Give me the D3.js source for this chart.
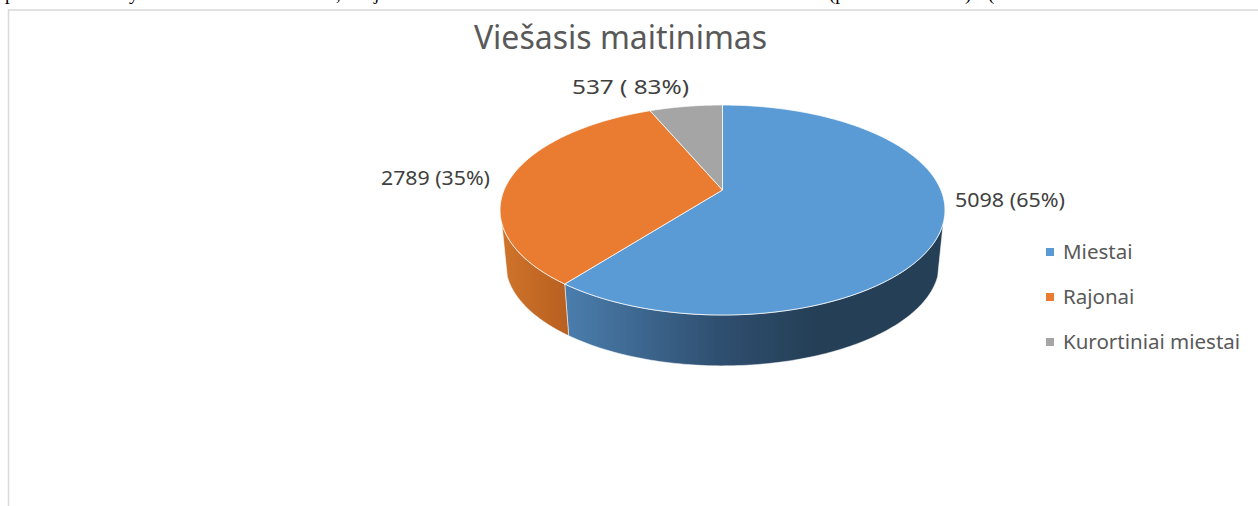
<!DOCTYPE html>
<html>
<head>
<meta charset="utf-8">
<script src="https://cdn.jsdelivr.net/npm/d3@7"></script>
<style>
  html, body { margin: 0; padding: 0; background: #fff; overflow: hidden; }
  text { font-family: "Noto Sans", sans-serif; fill: #595959; }
</style>
</head>
<body>
<div class="chart"></div>
<script>
// Chart data
var title = "Viešasis maitinimas";
var categories = ["Miestai", "Rajonai", "Kurortiniai miestai"];
var values = [5098, 2789, 537];
// labels as printed on the original chart
var dataLabels = ["5098 (65%)", "2789 (35%)", "537 ( 83%)"];
var colors = ["#5b9bd5", "#ea7c31", "#a5a5a5"];
// bits of the cut-off document line above the chart
var clippedText = ["p", "y", ",", "j", "(p", ")", "("];
var clippedTextX = [5, 129, 336, 374, 829, 965, 988];

var svgWidth = 1258;
var svgHeight = 506;

var svg = d3.select(".chart")
  .append("svg")
  .attr("width", svgWidth)
  .attr("height", svgHeight)
  .style("display", "block");

// Document text, only the bottoms of the letters show
svg.selectAll(".clipped")
  .data(clippedText)
  .enter()
  .append("text")
  .attr("class", "clipped")
  .attr("x", (d, i) => clippedTextX[i])
  .attr("y", -0.5)
  .style("font-family", "'Liberation Serif', serif")
  .style("font-size", "19px")
  .style("fill", "#000")
  .text(d => d);

// Chart frame, top and left edges only
svg.append("path")
  .attr("d", "M8.5,506V10H1258")
  .attr("fill", "none")
  .attr("stroke", "#d9d9d9")
  .attr("stroke-width", 1.5);

svg.append("text")
  .attr("x", 620.5)
  .attr("y", 49)
  .attr("text-anchor", "middle")
  .style("font-size", "32px")
  .text(title);

// Pie angles, counted from the top; the first slice runs clockwise
var pie = d3.pie().sort(null).value(d => d).startAngle(0).endAngle(2 * Math.PI);
var arcs = pie(values);

// Perspective projection of the tilted circle
var cx = 722.5, topCy = 190, bottomCy = 244;
var k = 0.1905, rx = 218.4, ry = 101.19, bottomScale = 0.975;

function project(a, cy, s) {
  var w = 1 + k * Math.cos(a);
  return [cx + s * rx * Math.sin(a) / w, cy - s * ry * Math.cos(a) / w];
}

function arcPoints(a0, a1, cy, s) {
  return d3.range(0, 121).map(i => project(a0 + (a1 - a0) * i / 120, cy, s));
}

var line = d3.line();

// Side wall is visible from here to the same angle on the other side
var silhouette = 108 * Math.PI / 180;

var defs = svg.append("defs");

function wallGradient(id, x1, x2, stops) {
  var g = defs.append("linearGradient")
    .attr("id", id)
    .attr("gradientUnits", "userSpaceOnUse")
    .attr("x1", x1).attr("x2", x2)
    .attr("y1", 0).attr("y2", 0);
  stops.forEach(s => g.append("stop").attr("offset", s[0]).attr("stop-color", s[1]));
}

wallGradient("wallBlue", 568, 945, [[0, "#4a7dac"], [0.4, "#2f4f70"], [0.66, "#243f56"], [1, "#243f56"]]);
wallGradient("wallOrange", 501, 570, [[0, "#cf742b"], [1, "#b85f20"]]);

function wall(a0, a1) {
  var upper = arcPoints(a0, a1, topCy, 1);
  var lower = arcPoints(a0, a1, bottomCy, bottomScale).reverse();
  return line(upper.concat(lower)) + "Z";
}

var walls = [
  { from: silhouette, to: arcs[0].endAngle, fill: "url(#wallBlue)" },
  { from: arcs[1].startAngle, to: 2 * Math.PI - silhouette, fill: "url(#wallOrange)" }
];

svg.selectAll(".wall")
  .data(walls)
  .enter()
  .append("path")
  .attr("class", "wall")
  .attr("d", d => wall(d.from, d.to))
  .attr("fill", d => d.fill)
  .attr("stroke", "#fff")
  .attr("stroke-opacity", 0.7)
  .attr("stroke-width", 0.75);

// Top face slices
svg.selectAll(".slice")
  .data(arcs)
  .enter()
  .append("path")
  .attr("class", "slice")
  .attr("d", d => line([[cx, topCy]].concat(arcPoints(d.startAngle, d.endAngle, topCy, 1))) + "Z")
  .attr("fill", (d, i) => colors[i])
  .attr("stroke", "#fff")
  .attr("stroke-opacity", 0.75)
  .attr("stroke-width", 1)
  .attr("stroke-linejoin", "round");

// Data labels
var labelX = [955, 381, 572];
var labelY = [207, 185, 94];
var labelWidth = [110, 109, 117];

svg.selectAll(".dataLabel")
  .data(dataLabels)
  .enter()
  .append("text")
  .attr("class", "dataLabel")
  .attr("x", (d, i) => labelX[i])
  .attr("y", (d, i) => labelY[i])
  .attr("textLength", (d, i) => labelWidth[i])
  .attr("lengthAdjust", "spacingAndGlyphs")
  .style("font-size", "20px")
  .style("fill", "#404040")
  .text(d => d);

// Legend
var legendY = d3.scalePoint().domain(categories).range([252, 342]);

var legend = svg.selectAll(".legend")
  .data(categories)
  .enter()
  .append("g")
  .attr("class", "legend")
  .attr("transform", d => `translate(1046, ${legendY(d)})`);

legend.append("rect")
  .attr("x", 0)
  .attr("y", -4)
  .attr("width", 8)
  .attr("height", 8)
  .attr("fill", (d, i) => colors[i]);

legend.append("text")
  .attr("x", 17)
  .attr("y", 7)
  .style("font-size", "20.5px")
  .text(d => d);
</script>
</body>
</html>
